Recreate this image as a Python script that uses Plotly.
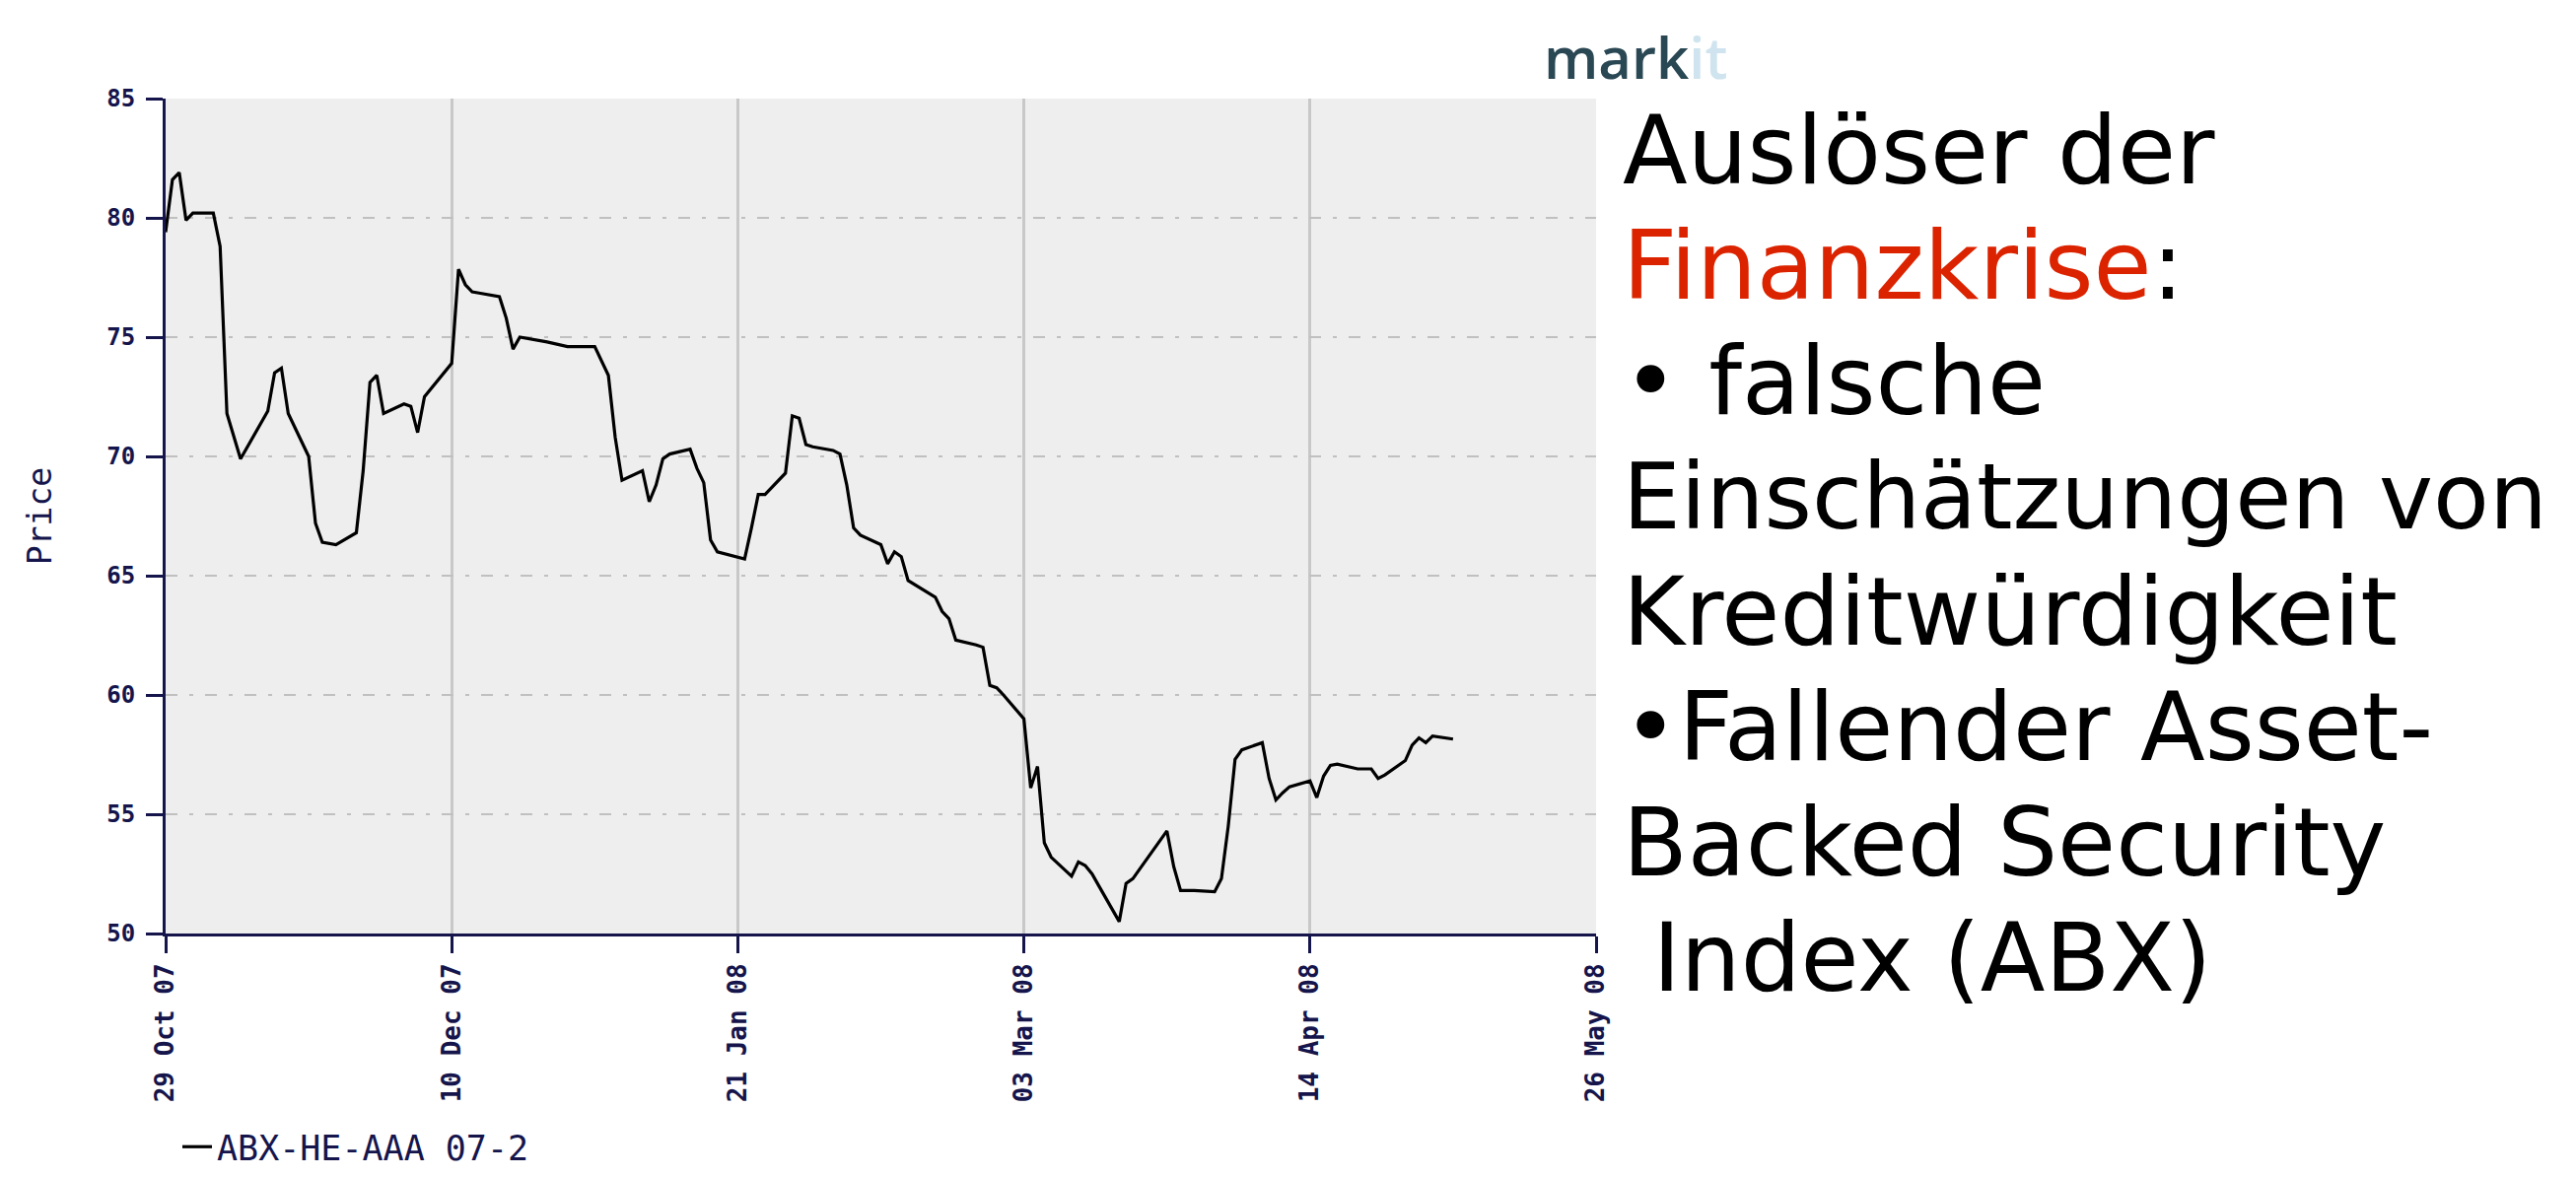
import plotly.graph_objects as go

# ---------------- data ----------------
dates = [
    "2007-10-29", "2007-10-30", "2007-10-31", "2007-11-01", "2007-11-02",
    "2007-11-05", "2007-11-06", "2007-11-07", "2007-11-09", "2007-11-13",
    "2007-11-14", "2007-11-15", "2007-11-16", "2007-11-19", "2007-11-20",
    "2007-11-21", "2007-11-23", "2007-11-26", "2007-11-27", "2007-11-28",
    "2007-11-29", "2007-11-30", "2007-12-03", "2007-12-04", "2007-12-05",
    "2007-12-06", "2007-12-10", "2007-12-11", "2007-12-12", "2007-12-13",
    "2007-12-14", "2007-12-17", "2007-12-18", "2007-12-19", "2007-12-20",
    "2007-12-21", "2007-12-24", "2007-12-27", "2007-12-31", "2008-01-02",
    "2008-01-03", "2008-01-04", "2008-01-07", "2008-01-08", "2008-01-09",
    "2008-01-10", "2008-01-11", "2008-01-14", "2008-01-15", "2008-01-16",
    "2008-01-17", "2008-01-18", "2008-01-22", "2008-01-23", "2008-01-24",
    "2008-01-25", "2008-01-28", "2008-01-29", "2008-01-30", "2008-01-31",
    "2008-02-01", "2008-02-04", "2008-02-05", "2008-02-06", "2008-02-07",
    "2008-02-08", "2008-02-11", "2008-02-12", "2008-02-13", "2008-02-14",
    "2008-02-15", "2008-02-19", "2008-02-20", "2008-02-21", "2008-02-22",
    "2008-02-25", "2008-02-26", "2008-02-27", "2008-02-28", "2008-02-29",
    "2008-03-03", "2008-03-04", "2008-03-05", "2008-03-06", "2008-03-07",
    "2008-03-10", "2008-03-11", "2008-03-12", "2008-03-13", "2008-03-14",
    "2008-03-17", "2008-03-18", "2008-03-19", "2008-03-20", "2008-03-24",
    "2008-03-25", "2008-03-26", "2008-03-27", "2008-03-28", "2008-03-31",
    "2008-04-01", "2008-04-02", "2008-04-03", "2008-04-04", "2008-04-07",
    "2008-04-08", "2008-04-09", "2008-04-10", "2008-04-11", "2008-04-14",
    "2008-04-15", "2008-04-16", "2008-04-17", "2008-04-18", "2008-04-21",
    "2008-04-22", "2008-04-23", "2008-04-24", "2008-04-25", "2008-04-28",
    "2008-04-29", "2008-04-30", "2008-05-01", "2008-05-02", "2008-05-05",
]
prices = [
    79.4, 81.6, 81.9, 79.9, 80.2,
    80.2, 78.8, 71.8, 69.9, 71.9,
    73.5, 73.7, 71.8, 70.0, 67.2,
    66.4, 66.3, 66.8, 69.4, 73.1,
    73.4, 71.8, 72.2, 72.1, 71.0,
    72.5, 73.9, 77.85, 77.2, 76.9,
    76.85, 76.7, 75.8, 74.5, 75.0,
    74.95, 74.8, 74.6, 74.6, 73.4,
    70.8, 69.0, 69.4, 68.1, 68.8,
    69.9, 70.1, 70.3, 69.5, 68.9,
    66.5, 66.0, 65.7, 67.0, 68.4,
    68.4, 69.3, 71.7, 71.6, 70.5,
    70.4, 70.25, 70.1, 68.8, 67.0,
    66.7, 66.3, 65.5, 66.0, 65.8,
    64.8, 64.1, 63.5, 63.2, 62.3,
    62.1, 62.0, 60.4, 60.3, 60.0,
    59.0, 56.1, 57.0, 53.8, 53.2,
    52.4, 53.0, 52.85, 52.5, 52.0,
    50.5, 52.1, 52.3, 52.7, 54.3,
    52.8, 51.8, 51.8, 51.8, 51.75,
    52.3, 54.5, 57.3, 57.7, 58.0,
    56.5, 55.6, 55.9, 56.15, 56.4,
    55.7, 56.6, 57.05, 57.1, 56.9,
    56.9, 56.9, 56.5, 56.65, 57.25,
    57.9, 58.2, 58.0, 58.28, 58.15,
]
series_name = "ABX-HE-AAA 07-2"

x_tick_dates = ["2007-10-29", "2007-12-10", "2008-01-21", "2008-03-03", "2008-04-14", "2008-05-26"]
x_tick_labels = ["29 Oct 07", "10 Dec 07", "21 Jan 08", "03 Mar 08", "14 Apr 08", "26 May 08"]
y_ticks = [50, 55, 60, 65, 70, 75, 80, 85]

side_lines = [
    "Auslöser der",
    "<span style='color:#dc2300'>Finanzkrise</span>:",
    "• falsche",
    "Einschätzungen von",
    "Kreditwürdigkeit",
    "•Fallender Asset-",
    "Backed Security",
    "\u00a0Index (ABX)",
]
side_sizes = [96, 96, 96, 93, 96, 96, 96, 96]

# ---------------- layout helpers ----------------
# the page body has an 8px margin, so figure coordinates = page coordinates - 8
OFF = 8
W, H = 2613 - 2 * OFF, 1194 - 2 * OFF
L, R, T, B = 168 - OFF, 1619 - OFF, 100 - OFF, 947 - OFF
NAVY = "#15154c"


def px_x(px):
    return (px - L) / (R - L)


def px_y(py):
    return (B - py) / (B - T)


fig = go.Figure()
fig.add_trace(go.Scatter(
    x=dates, y=prices, mode="lines", name=series_name,
    line=dict(color="black", width=3.2), showlegend=True,
))

annotations = []
baseline0, step = 188 - OFF, 117
for i, txt in enumerate(side_lines):
    base = baseline0 + i * step
    annotations.append(dict(
        text=txt, xref="paper", yref="paper",
        x=px_x(1636), y=px_y(base - 35), xanchor="left", yanchor="middle",
        showarrow=False,
        font=dict(family="DejaVu Sans, Verdana, sans-serif", size=side_sizes[i], color="black"),
    ))

annotations.append(dict(
    text="<span style='color:#2a4754'>mark</span><span style='color:#cfe4ef'>it</span>",
    xref="paper", yref="paper", x=px_x(1556), y=px_y(50), xanchor="left", yanchor="middle",
    showarrow=False, font=dict(family="Open Sans, sans-serif", size=58, weight=600),
))

fig.update_layout(
    width=W, height=H,
    margin=dict(l=L, r=W - R, t=T, b=H - B, autoexpand=False),
    paper_bgcolor="white",
    plot_bgcolor="#eeeeee",
    showlegend=True,
    legend=dict(
        x=px_x(172), y=px_y(1126), xanchor="left", yanchor="top",
        bgcolor="rgba(0,0,0,0)",
        font=dict(family="DejaVu Sans Mono, monospace", size=35, color=NAVY),
        itemwidth=30,
    ),
    annotations=annotations,
)

fig.update_xaxes(
    type="date", range=["2007-10-29", "2008-05-26"],
    tickvals=x_tick_dates, ticktext=x_tick_labels, tickangle=-90,
    tickfont=dict(family="DejaVu Sans Mono, monospace", size=26, color=NAVY, weight="bold"),
    ticks="outside", ticklen=17, tickwidth=3, tickcolor=NAVY,
    showline=True, linecolor=NAVY, linewidth=3,
    showgrid=True, gridcolor="#c8c8c8", gridwidth=3,
    zeroline=False, automargin=False,
)
fig.update_yaxes(
    range=[50, 85], tickvals=y_ticks,
    tickfont=dict(family="DejaVu Sans Mono, monospace", size=24, color=NAVY, weight="bold"),
    ticks="outside", ticklen=17, tickwidth=3, tickcolor=NAVY, ticklabelstandoff=6,
    showline=True, linecolor=NAVY, linewidth=3,
    showgrid=True, gridcolor="#c0c0c0", gridwidth=2, griddash="12px,12px,4px,12px",
    zeroline=False, automargin=False,
    title=dict(text="Price", font=dict(family="DejaVu Sans Mono, monospace", size=33, color=NAVY), standoff=46),
)

fig.write_html("out.html")
